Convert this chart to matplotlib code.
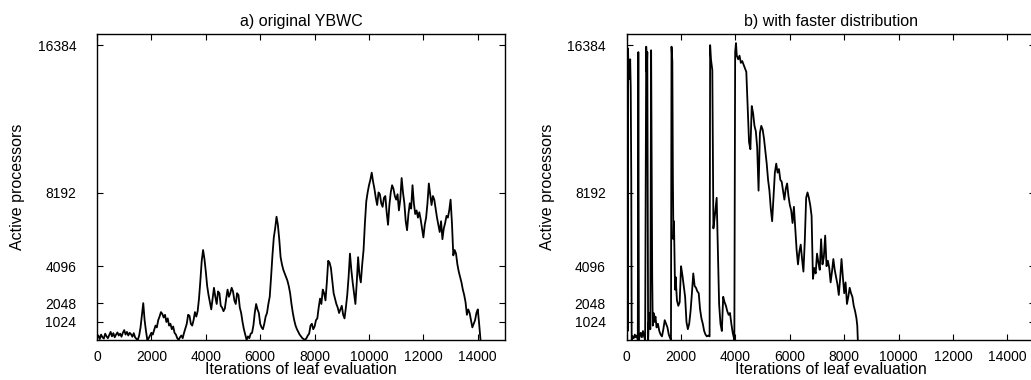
import matplotlib.pyplot as plt

# a) original YBWC, sampled every 50 iterations
ybwc_x = list(range(0, 14101, 50))
ybwc_y = [
    100, 250, 50, 300, 150, 80, 350, 200, 100, 280,
    450, 200, 380, 150, 300, 420, 250, 350, 180, 400,
    550, 300, 450, 250, 400, 320, 180, 380, 150, 60,
    0, 250, 700, 1400, 2050, 1100, 500, 0, 100, 250,
    400, 300, 550, 800, 700, 1100, 1300, 1550, 1450, 1250,
    1400, 1000, 1200, 800, 900, 600, 750, 400, 300, 100,
    0, 150, 250, 100, 400, 650, 900, 1400, 1350, 900,
    800, 1100, 1550, 1300, 1600, 2300, 3300, 4400, 5000, 4500,
    3800, 3000, 2500, 2100, 1700, 2300, 2900, 2400, 2000, 2700,
    2600, 1900, 1800, 1600, 1750, 2300, 2800, 2400, 2600, 2900,
    2700, 2200, 2000, 2600, 2500, 1800, 1500, 1000, 600, 300,
    0, 200, 100, 350, 400, 800, 1500, 2000, 1700, 1500,
    900, 700, 600, 900, 1300, 1500, 2000, 2400, 3500, 4700,
    5700, 6200, 6850, 6400, 5600, 4600, 4200, 3900, 3700, 3500,
    3300, 3000, 2600, 2000, 1500, 1100, 800, 600, 450, 300,
    200, 100, 50, 0, 100, 250, 350, 800, 900, 600,
    750, 1100, 1200, 1800, 2300, 2000, 2800, 2600, 2200, 3200,
    4400, 4300, 4000, 3300, 2600, 2300, 2000, 1800, 1500, 1700,
    1900, 1400, 1200, 1800, 2500, 3500, 4800, 3900, 3200, 2600,
    2000, 3200, 4600, 3600, 3200, 4200, 5000, 6500, 7700, 8200,
    8600, 8900, 9300, 8800, 8400, 7900, 7500, 8200, 8100, 7600,
    7400, 7900, 8000, 7100, 6400, 7500, 8200, 8600, 8400, 8000,
    7800, 8100, 7200, 7800, 9000, 8200, 7600, 6600, 6100, 7000,
    7600, 7300, 8600, 7600, 7000, 7200, 6800, 7100, 6700, 6200,
    5700, 6400, 6800, 7600, 8700, 8100, 7500, 8000, 7800, 7300,
    6800, 6400, 6000, 6600, 5600, 6200, 6500, 6900, 6800, 7200,
    7800, 6500, 4700, 5000, 4800, 4200, 3800, 3500, 3200, 2800,
    2500, 2100, 1400, 1700, 1500, 1100, 700, 900, 1100, 1500,
    1700, 900, 0,
]

# b) with faster distribution
fast_x = [
    0, 10, 20, 30, 40, 50, 70, 90, 110, 130, 150, 170, 185,
    220, 260, 300, 340, 380, 410, 430, 450, 480, 520, 560, 600, 640, 680,
    720, 740, 760, 790, 810, 840, 870, 900, 940, 960, 990, 1020, 1060,
    1100, 1150, 1200, 1250, 1300, 1350, 1400, 1450, 1500, 1550, 1600, 1630,
    1650, 1680, 1700, 1720, 1740, 1760, 1780, 1800, 1850, 1900, 1950, 2000,
    2050, 2100, 2150, 2200, 2250, 2300, 2350, 2400, 2450, 2500, 2550, 2600,
    2650, 2700, 2750, 2800, 2850, 2900, 2950, 3000, 3050, 3070, 3100, 3150,
    3190, 3250, 3310, 3360, 3400, 3450, 3500, 3550, 3600, 3650, 3700, 3750,
    3800, 3850, 3900, 3960, 3990, 4020, 4050, 4100, 4150, 4200, 4250, 4300,
    4350, 4400, 4450, 4500, 4550, 4600, 4650, 4700, 4750, 4800, 4850, 4900,
    4950, 5000, 5050, 5100, 5150, 5200, 5250, 5300, 5350, 5400, 5450, 5500,
    5550, 5600, 5650, 5700, 5750, 5800, 5850, 5900, 5950, 6000, 6050, 6100,
    6150, 6200, 6250, 6300, 6350, 6400, 6450, 6500, 6550, 6600, 6650, 6700,
    6750, 6800, 6850, 6900, 6950, 7000, 7050, 7100, 7150, 7200, 7250, 7300,
    7350, 7400, 7450, 7500, 7550, 7600, 7650, 7700, 7750, 7800, 7850, 7900,
    7950, 8000, 8050, 8100, 8150, 8200, 8250, 8300, 8350, 8400, 8450, 8480,
    8500,
]
fast_y = [
    0, 16300, 2000, 15800, 500, 16200, 15000, 15500, 14500, 15600, 14000, 9000, 0,
    200, 100, 300, 150, 250, 0, 16000, 0, 200, 400, 150, 500, 200, 0,
    16300, 14900, 16000, 0, 900, 1500, 600, 16100, 3500, 800, 1500, 1000, 1300,
    700, 900, 500, 300, 200, 600, 1100, 900, 700, 300, 100, 0,
    16300, 15500, 9000, 5600, 6600, 4800, 2800, 3500, 2200, 1900, 2100, 4100,
    3600, 3000, 2400, 1000, 600, 900, 1600, 2600, 3700, 3000, 2900, 2700,
    2600, 1700, 1200, 900, 500, 300, 200, 250, 200, 16384, 15600, 15000,
    6200, 7000, 7900, 4500, 2000, 900, 500, 2400, 2100, 1900, 1600, 1400,
    1500, 900, 400, 0, 16000, 16500, 15800, 15600, 15800, 15400, 15500, 15300,
    15100, 14900, 13000, 11000, 10600, 13000, 12600, 11900, 11600, 10700, 8300, 11500,
    11900, 11700, 11200, 10500, 9800, 8900, 8300, 7300, 6600, 8000, 9300, 9800,
    9300, 9500, 8900, 8800, 8300, 7800, 8400, 8700, 8000, 7500, 7200, 6500,
    7400, 6200, 5000, 4200, 4900, 5300, 4500, 3800, 5500, 7900, 8200, 7900,
    7500, 6900, 3400, 4000, 3700, 4800, 4300, 3900, 5600, 4200, 4600, 5800,
    4100, 4400, 4000, 3200, 3800, 4500, 3900, 3500, 3100, 2500, 3400, 4500,
    3500, 2600, 3200, 2000, 2400, 2900, 2600, 2400, 1900, 1600, 1200, 800,
    0,
]

titles = ["a) original YBWC", "b) with faster distribution"]
xticks = [0, 2000, 4000, 6000, 8000, 10000, 12000, 14000]
yticks = [1024, 2048, 4096, 8192, 16384]

plt.rcParams['font.family'] = ['Liberation Sans', 'DejaVu Sans']
plt.rcParams['font.size'] = 10

fig = plt.figure(figsize=(10.31, 3.8), dpi=100)
axes = [fig.add_axes([0.0941, 0.1053, 0.3957, 0.805]),
        fig.add_axes([0.6078, 0.1053, 0.3957, 0.805])]

for ax, title, xs, ys in zip(axes, titles, [ybwc_x, fast_x], [ybwc_y, fast_y]):
    ax.plot(xs, ys, color='black', linewidth=1.3)
    ax.set_xlim(0, 15000)
    ax.set_ylim(0, 17000)
    ax.set_xticks(xticks)
    ax.set_yticks(yticks)
    ax.tick_params(direction='in', length=4, width=0.8, top=True, right=True,
                   labelsize=10)
    ax.tick_params(axis='y', pad=15)
    ax.tick_params(axis='x', pad=7)
    ax.set_title(title, fontsize=11.5, pad=6)
    ax.set_xlabel("Iterations of leaf evaluation", fontsize=11.5, labelpad=-1)
    ax.set_ylabel("Active processors", fontsize=11.5, labelpad=9)
    for s in ax.spines.values():
        s.set_linewidth(1.0)

fig.savefig("out.png", dpi=100)
